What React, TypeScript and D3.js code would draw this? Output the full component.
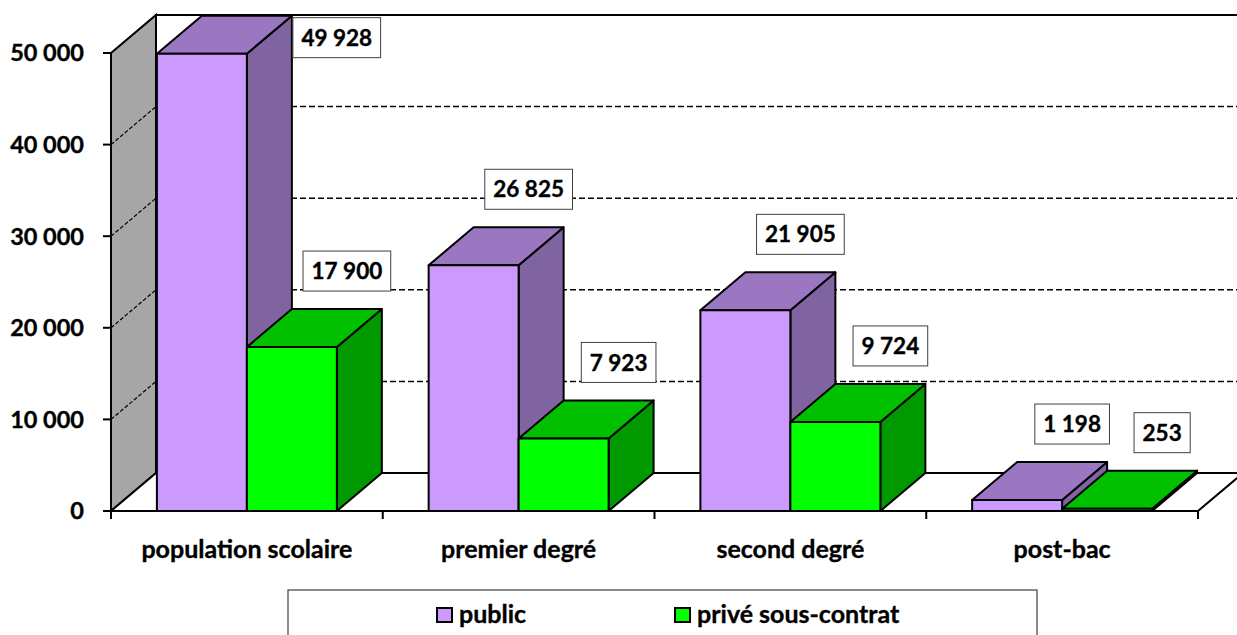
import React, { useEffect, useRef } from "react";
import * as d3 from "d3";

const categories = ["population scolaire", "premier degré", "second degré", "post-bac"];
const seriesNames = ["public", "privé sous-contrat"];
const publicValues = [49928, 26825, 21905, 1198];
const priveValues = [17900, 7923, 9724, 253];
const yTicks = [0, 10000, 20000, 30000, 40000, 50000];

const W = 1237;
const H = 635;
const FONT = "Lato, 'Open Sans', sans-serif";

export default function App() {
  const ref = useRef<SVGSVGElement>(null);

  useEffect(() => {
    const svg = d3.select(ref.current!);
    svg.selectAll("*").remove();

    const left = 111, right = 1198, bottom = 511;
    const dx = 45, dy = -38;
    const loc = d3.formatLocale({ decimal: ",", thousands: "\u00a0", grouping: [3], currency: ["", "€"] });
    const fmt = loc.format(",d");

    const y = d3.scaleLinear().domain([0, 50000]).range([bottom, 53]);
    const x0 = d3.scaleBand<string>().domain(categories).range([left, right]).paddingInner(0).paddingOuter(0);
    const x1 = d3.scaleBand<string>().domain(seriesNames).range([0, x0.bandwidth()]).paddingInner(0).paddingOuter(0.51);

    const g = svg.append("g");
    const line = (pts: [number, number][]) => "M" + pts.map((p) => p.join(",")).join("L") + "Z";

    // back wall
    g.append("rect").attr("x", left + dx).attr("y", y(50000) + dy).attr("width", right - left + 10)
      .attr("height", y(0) - y(50000)).attr("fill", "#fff").attr("stroke", "#000").attr("stroke-width", 2);
    // left wall
    g.append("path").attr("d", line([[left, y(50000)], [left + dx, y(50000) + dy], [left + dx, y(0) + dy], [left, y(0)]]))
      .attr("fill", "#A6A6A6").attr("stroke", "#000").attr("stroke-width", 2);
    // gridlines
    yTicks.filter((t) => t > 0 && t < 50000).forEach((t) => {
      g.append("line").attr("x1", left + dx).attr("x2", W + 20).attr("y1", y(t) + dy).attr("y2", y(t) + dy)
        .attr("stroke", "#000").attr("stroke-width", 1.5).attr("stroke-dasharray", "6,3");
      g.append("line").attr("x1", left).attr("x2", left + dx).attr("y1", y(t)).attr("y2", y(t) + dy)
        .attr("stroke", "#000").attr("stroke-width", 1.2).attr("stroke-dasharray", "4,2");
    });
    // floor
    g.append("path").attr("d", line([[left, y(0)], [left + dx, y(0) + dy], [right + dx, y(0) + dy], [right, y(0)]]))
      .attr("fill", "#fff").attr("stroke", "#000").attr("stroke-width", 2);

    const colors = [
      { front: "#CC99FF", top: "#9B76C1", side: "#8064A2" },
      { front: "#00FF00", top: "#00C000", side: "#009900" },
    ];
    const data = [publicValues, priveValues];

    const labels: { text: string; cx: number; cy: number; boxLeft?: number }[] = [];

    categories.forEach((c, i) => {
      seriesNames.forEach((s, j) => {
        const v = data[j][i];
        const xl = x0(c)! + x1(s)!;
        const xr = xl + x1.bandwidth();
        const yt = y(v);
        const col = colors[j];
        const bg = g.append("g").attr("stroke", "#000").attr("stroke-width", 2).attr("stroke-linejoin", "round");
        bg.append("path").attr("d", line([[xr, yt], [xr + dx, yt + dy], [xr + dx, y(0) + dy], [xr, y(0)]])).attr("fill", col.side);
        bg.append("path").attr("d", line([[xl, yt], [xl + dx, yt + dy], [xr + dx, yt + dy], [xr, yt]])).attr("fill", col.top);
        bg.append("rect").attr("x", xl).attr("y", yt).attr("width", xr - xl).attr("height", y(0) - yt).attr("fill", col.front);
        const cx = xl + 100;
        const cy = yt + dy - 38;
        const text = fmt(v);
        if (cy - 20 < y(50000) + dy) {
          labels.push({ text, cx: 0, cy: yt - 16, boxLeft: xr + dx + 1 });
        } else {
          labels.push({ text, cx, cy });
        }
      });
    });

    // axes
    const ax = g.append("g").attr("stroke", "#000").attr("stroke-width", 2);
    ax.append("line").attr("x1", left).attr("x2", left).attr("y1", y(50000)).attr("y2", bottom + 8);
    ax.append("line").attr("x1", left).attr("x2", right).attr("y1", bottom).attr("y2", bottom);
    yTicks.forEach((t) => {
      ax.append("line").attr("x1", left - 8).attr("x2", left).attr("y1", y(t)).attr("y2", y(t));
    });
    categories.forEach((c) => {
      const xe = x0(c)! + x0.bandwidth();
      ax.append("line").attr("x1", xe).attr("x2", xe).attr("y1", bottom).attr("y2", bottom + 8);
    });

    const heavy = (sel: d3.Selection<SVGTextElement, unknown, null, undefined>) =>
      sel.attr("stroke", "#000").attr("stroke-width", 0.35);

    const tg = g.append("g").attr("font-family", FONT).attr("font-weight", "bold").attr("fill", "#000");
    yTicks.forEach((t) => {
      heavy(tg.append("text").attr("x", 84).attr("y", y(t)).attr("dy", "0.36em").attr("font-size", 23.5)
        .attr("text-anchor", "end").text(fmt(t)) as any);
    });
    categories.forEach((c) => {
      heavy(tg.append("text").attr("x", x0(c)! + x0.bandwidth() / 2).attr("y", 549).attr("dy", "0.36em")
        .attr("font-size", 25).attr("text-anchor", "middle").text(c) as any);
    });

    // data labels
    labels.forEach((l) => {
      const lg = g.append("g");
      const t = lg.append("text").attr("font-family", FONT).attr("font-weight", "bold").attr("font-size", 22.5)
        .attr("text-anchor", "middle").attr("dy", "0.36em").text(l.text);
      heavy(t as any);
      const tw = (t.node() as SVGTextElement).getComputedTextLength();
      const bw = tw + 17, bh = 40;
      const cx = l.boxLeft !== undefined ? l.boxLeft + bw / 2 : l.cx;
      t.attr("x", cx).attr("y", l.cy);
      lg.insert("rect", "text").attr("x", cx - bw / 2).attr("y", l.cy - bh / 2).attr("width", bw).attr("height", bh)
        .attr("fill", "#fff").attr("stroke", "#404040").attr("stroke-width", 1);
    });

    // legend
    const lgd = g.append("g");
    lgd.append("rect").attr("x", 288).attr("y", 590).attr("width", 749).attr("height", 60)
      .attr("fill", "#fff").attr("stroke", "#404040").attr("stroke-width", 1.2);
    const legX = [437, 675];
    seriesNames.forEach((s, j) => {
      lgd.append("rect").attr("x", legX[j]).attr("y", 608).attr("width", 15).attr("height", 14)
        .attr("fill", colors[j].front).attr("stroke", "#000").attr("stroke-width", 2);
      heavy(lgd.append("text").attr("x", legX[j] + 22).attr("y", 614).attr("dy", "0.36em")
        .attr("font-family", FONT).attr("font-weight", "bold").attr("font-size", 25).text(s) as any);
    });
  }, []);

  return (
    <svg ref={ref} width={W} height={H} style={{ position: "absolute", left: 0, top: 0, background: "#fff" }} />
  );
}
